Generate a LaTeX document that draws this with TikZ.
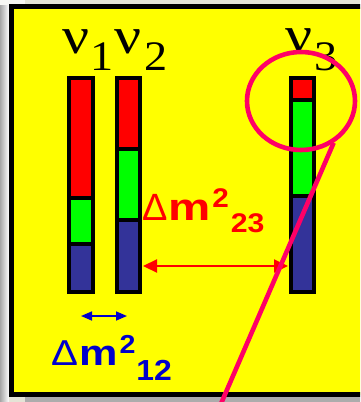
\documentclass[tikz,border=0pt]{standalone}
\usepackage{fontspec}
\usepackage{graphicx}
\setmainfont{Liberation Serif}
\newfontfamily\sansf{Liberation Sans}
\usetikzlibrary{arrows.meta,shapes.geometric}
\definecolor{bgbeige}{HTML}{E4E4D6}
\definecolor{slidey}{HTML}{FFFF00}
\definecolor{barred}{HTML}{FF0000}
\definecolor{bargreen}{HTML}{00FF00}
\definecolor{barblue}{HTML}{333399}
\definecolor{circmag}{HTML}{FF0066}
\definecolor{txtred}{HTML}{FF0000}
\definecolor{txtblue}{HTML}{0000CC}
\tikzset{
  barline/.style={line width=4pt, black},
  nulabel/.style={inner sep=0pt, anchor=base west, font=\fontsize{52}{52}\selectfont, xscale=1.15},
  nusub/.style={inner sep=0pt, anchor=base west, font=\fontsize{42}{42}\selectfont, xscale=1.1},
  dmlabel/.style={inner sep=0pt, anchor=base west},
  bigarrow/.style={line width=2.2pt, txtred, {Triangle[length=14pt,width=13pt]}-{Triangle[length=14pt,width=13pt]}},
  smallarrow/.style={line width=1.6pt, txtblue, {Triangle[length=11pt,width=9pt]}-{Triangle[length=11pt,width=9pt]}},
  marker/.style={line width=4.6pt, circmag}
}
\newcommand\nubar[4]{%
  \fill[barred]   (#1,77.75) rectangle (#2,#3);
  \fill[bargreen] (#1,#3) rectangle (#2,#4);
  \fill[barblue]  (#1,#4) rectangle (#2,291.5);
  \draw[barline] (#1,#3) -- (#2,#3);
  \draw[barline] (#1,#4) -- (#2,#4);
  \draw[barline] (#1,77.75) rectangle (#2,291.5);
}
\begin{document}
\begin{tikzpicture}[x=1pt,y=-1pt]
\useasboundingbox (0,0) rectangle (360,402);
\clip (0,0) rectangle (360,402);
% background
\fill[bgbeige] (0,0) rectangle (360,402);
\shade[left color=gray!70, right color=white] (0,0) rectangle (9,402);
\fill[white!70!bgbeige] (0,0) rectangle (25,5);
\fill[gray!65] (25,397) rectangle (365,402);
% slide panel
\draw[line width=4.5pt, fill=slidey] (11.5,6.5) rectangle (370,394.5);
% bars
\nubar{69.2}{92.8}{198}{244}
\nubar{117}{139.7}{149}{220}
\nubar{291}{313.8}{100}{196}
% labels
\node[nulabel] (n1) at (62,53) {ν};
\node[nusub]   (s1) at (90,70) {1};
\node[nulabel] (n2) at (114,53) {ν};
\node[nusub]   (s2) at (144,70) {2};
\node[nulabel] (n3) at (285,52) {ν};
\node[nusub]   (s3) at (314,70) {3};
% mass splittings
\node[dmlabel, text=txtred] (d23) at (142,220) {\sansf{\fontsize{38}{38}\selectfont Δ}\kern1pt{\fontsize{38}{38}\selectfont\sansf\bfseries\scalebox{1.25}[1]{m}}\kern1.5pt\raisebox{13pt}{\fontsize{27}{27}\selectfont\sansf\bfseries\scalebox{1.1}[1]{2}}\kern2pt\raisebox{-12pt}{\fontsize{27}{27}\selectfont\sansf\bfseries\scalebox{1.12}[1]{23}}};
\node[dmlabel, text=txtblue] (d12) at (51,365) {\sansf{\fontsize{36}{36}\selectfont\scalebox{1.12}[1]{Δ}}\kern1pt{\fontsize{36}{36}\selectfont\sansf\bfseries\scalebox{1.2}[1]{m}}\kern2pt\raisebox{12pt}{\fontsize{26}{26}\selectfont\sansf\bfseries\scalebox{1.1}[1]{2}}\kern1pt\raisebox{-15pt}{\fontsize{29}{29}\selectfont\sansf\bfseries\scalebox{1.1}[1]{12}}};
% arrows
\coordinate (r1) at (143,266);
\coordinate (r2) at (288,266);
\draw[bigarrow] (r1) -- (r2);
\coordinate (b1) at (81,316);
\coordinate (b2) at (127,316);
\draw[smallarrow] (b1) -- (b2);
% marker
\node[marker, draw, ellipse, minimum width=108pt, minimum height=98pt, inner sep=0pt] (ring) at (301,101) {};
\coordinate (tail) at (220,406);
\draw[marker] (tail) -- (ring.-52);
\end{tikzpicture}
\end{document}
